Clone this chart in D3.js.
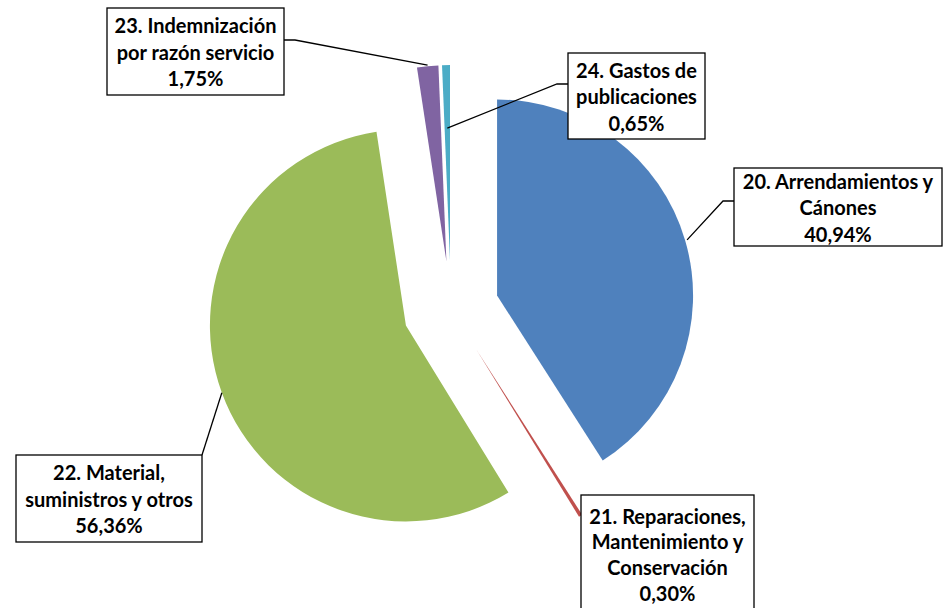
<!DOCTYPE html>
<html><head><meta charset="utf-8">
<script src="https://cdn.jsdelivr.net/npm/d3@7"></script>
<style>body{margin:0;background:#fff}svg{display:block}</style>
</head><body>
<svg id="c" width="945" height="608"></svg>
<script>
const categories = ["20. Arrendamientos y Cánones","21. Reparaciones, Mantenimiento y Conservación","22. Material, suministros y otros","23. Indemnización por razón servicio","24. Gastos de publicaciones"];
const values = [40.94, 0.30, 56.36, 1.75, 0.65];
const valueLabels = ["40,94%","0,30%","56,36%","1,75%","0,65%"];
const labelLines = [
  ["20. Arrendamientos y","Cánones","40,94%"],
  ["21. Reparaciones,","Mantenimiento y","Conservación","0,30%"],
  ["22. Material,","suministros y otros","56,36%"],
  ["23. Indemnización","por razón servicio","1,75%"],
  ["24. Gastos de","publicaciones","0,65%"]
];
const colors = ["#4F81BD","#C0504D","#9BBB59","#8064A2","#4BACC6"];

const svg = d3.select("#c");
const cx = 451, cy = 309, R = 196, explode = 48;
const pie = d3.pie().sort(null).value(d=>d).startAngle(0).endAngle(2*Math.PI);
const arcs = pie(values);
const arc = d3.arc().innerRadius(0).outerRadius(R);

function apex(a){const m=(a.startAngle+a.endAngle)/2;return [cx+explode*Math.sin(m), cy-explode*Math.cos(m)];}
function pointAt(a, ang, r){const p=apex(a);return [p[0]+r*Math.sin(ang), p[1]-r*Math.cos(ang)];}

svg.selectAll("path.slice").data(arcs).enter().append("path")
  .attr("class","slice")
  .attr("d", arc)
  .attr("fill",(d,i)=>colors[i])
  .attr("transform", d=>{const p=apex(d);return `translate(${p[0]},${p[1]})`;});

// label boxes (layout)
const boxes = [
  {x:734,y:168,w:208,h:78},
  {x:581,y:495,w:173,h:118},
  {x:16,y:455,w:186,h:87},
  {x:107,y:8,w:177,h:87},
  {x:568,y:53,w:137,h:86}
];
const mid = a=>(a.startAngle+a.endAngle)/2;
const leaders = [
  [pointAt(arcs[0],mid(arcs[0]),198),[723,201],[734,201]],
  [pointAt(arcs[1],mid(arcs[1]),200),[589,495]],
  [pointAt(arcs[2],mid(arcs[2]),196),[202,455]],
  [pointAt(arcs[3],mid(arcs[3]),197),[295,40],[284,40]],
  [pointAt(arcs[4],mid(arcs[4]),133),[557,84],[568,84]]
];
const line = d3.line();
svg.selectAll("path.leader").data(leaders).enter().append("path")
  .attr("d", d=>line(d)).attr("fill","none").attr("stroke","#000").attr("stroke-width",1.3);

boxes.forEach((b,i)=>{
  svg.append("rect").attr("x",b.x).attr("y",b.y).attr("width",b.w).attr("height",b.h)
    .attr("fill","#fff").attr("stroke","#000").attr("stroke-width",1.3);
  const n = labelLines[i].length;
  const lh = i===1 ? 25.7 : 26.5;
  const firstC = i===1 ? b.y+20.5 : b.y + b.h/2 - (n-1)*lh/2;
  labelLines[i].forEach((t,j)=>{
    svg.append("text").attr("x",b.x+b.w/2).attr("y",firstC+j*lh)
      .attr("text-anchor","middle").attr("dominant-baseline","central")
      .style("font-family","Lato, 'Open Sans', sans-serif").style("font-weight","bold").style("font-size","20px")
      .attr("fill","#000").text(t);
  });
});
</script>
</body></html>
